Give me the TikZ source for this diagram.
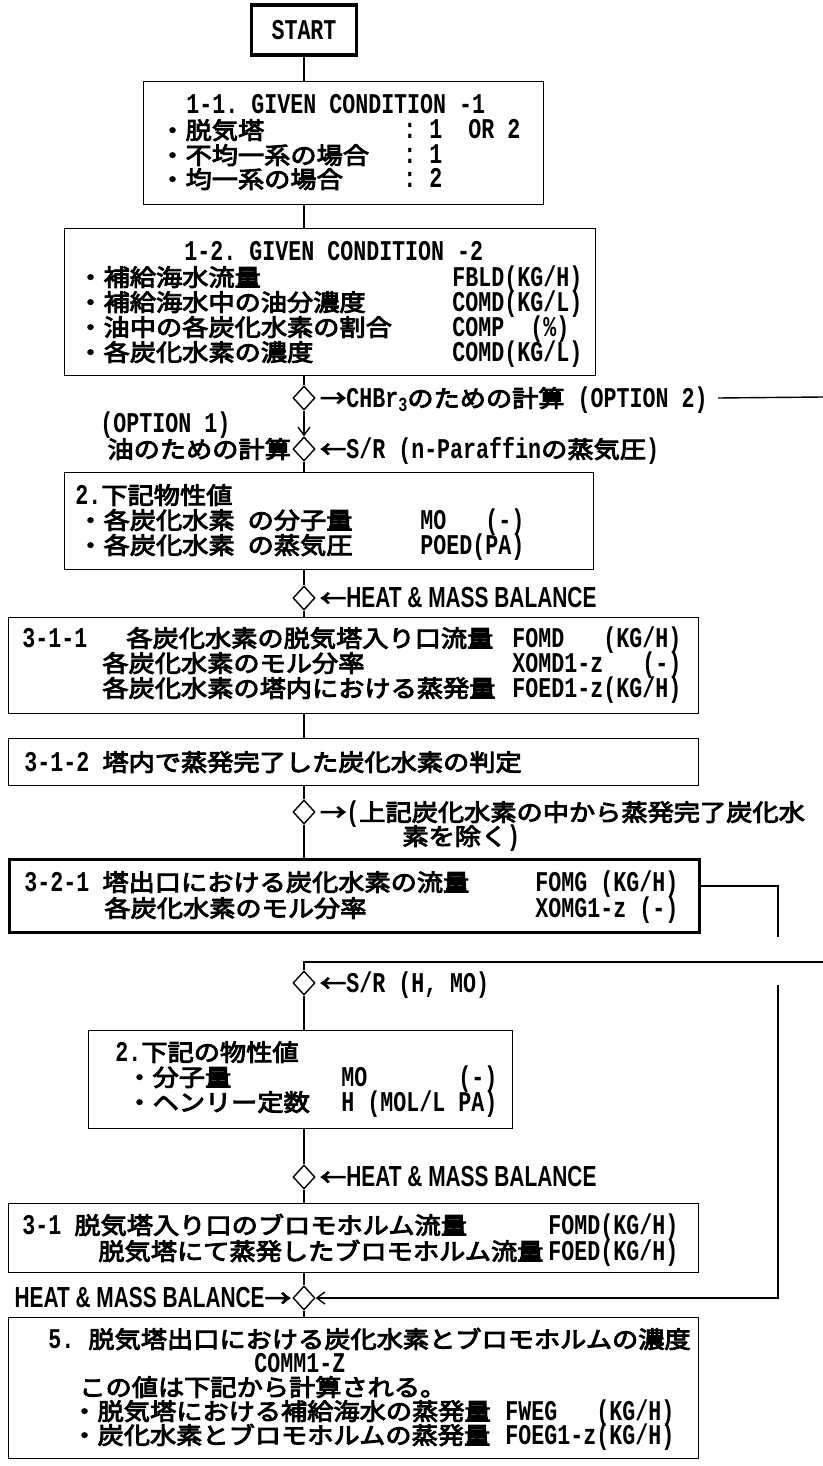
\documentclass[tikz,border=0pt]{standalone}
\usepackage{fontspec}
\usetikzlibrary{shapes.geometric,arrows.meta,calc}
\setmainfont{Liberation Mono}[FakeStretch=0.757]
\newfontfamily\jpf{Noto Sans CJK JP}[FakeStretch=1.12, FakeBold=4]
\newfontfamily\hvf{Liberation Sans}[FakeStretch=0.72]
\newcommand\mono{\fontsize{14.3}{18}\selectfont\bfseries}
\newcommand\J[1]{{\jpf\mdseries\fontsize{11.7}{14}\selectfont #1}}
\newcommand\HB[1]{{\hvf\bfseries\fontsize{14.5}{16}\selectfont #1}}
\newcommand\cw[2]{\makebox[\dimexpr#1pt/2\relax][l]{#2}}
\tikzset{
 box/.style={draw, line width=0.7pt, rectangle, inner sep=0pt, anchor=north west},
 tbox/.style={box, line width=1.7pt},
 dia/.style={diamond, draw, line width=0.7pt, minimum width=11pt, minimum height=12pt, inner sep=0pt},
 tx/.style={anchor=west, inner sep=0pt, text height=9.5pt, text depth=0.5pt, font=\mono},
 con/.style={line width=0.7pt},
 arr/.style={con, -{Straight Barb[length=4pt,width=6pt]}},
}
\begin{document}
\begin{tikzpicture}[x=0.5pt,y=-0.5pt]
\useasboundingbox (0,0) rectangle (823,1466);
% START
\node[tbox, anchor=center, minimum width=52.5pt, minimum height=25pt, font=\mono] (start) at (304,30) {START};
% 1-1
\node[box, minimum width=200pt, minimum height=61.5pt] (b11) at (143,81) {};
\node[tx] (t11a) at (186,105) {1-1.~GIVEN~CONDITION~-1};
\node[tx] (t11b) at (159,130) {\cw{244}{\J{・脱気塔}}:~1~~OR~2};
\node[tx] (t11c) at (159,155) {\cw{244}{\J{・不均一系の場合}}:~1};
\node[tx] (t11d) at (159,179) {\cw{244}{\J{・均一系の場合}}:~2};
% 1-2
\node[box, minimum width=265.5pt, minimum height=73.5pt] (b12) at (64,228) {};
\node[tx] (t12a) at (184,252) {1-2.~GIVEN~CONDITION~-2};
\node[tx] (t12b) at (77,277) {\cw{375}{\J{・補給海水流量}}FBLD(KG/H)};
\node[tx] (t12c) at (77,302) {\cw{375}{\J{・補給海水中の油分濃度}}COMD(KG/L)};
\node[tx] (t12d) at (77,327) {\cw{375}{\J{・油中の各炭化水素の割合}}COMP~~(\%)};
\node[tx] (t12e) at (77,352) {\cw{375}{\J{・各炭化水素の濃度}}COMD(KG/L)};
% D1
\node[dia] (d1) at (304,398) {};
\node[tx] (l1) at ($(d1.east)+(4,0)$) {\J{→}CHBr\raisebox{-2pt}{\fontsize{10}{10}\selectfont 3}\J{のための計算}~(OPTION~2)};
\coordinate (r1) at (823,397);
\draw[con] ([xshift=5pt]l1.east) -- (r1);
% D2
\node[dia] (d2) at (304,449) {};
\node[tx] (l2) at ($(d2.east)+(4,0)$) {\J{←}S/R~(n-Paraffin\J{の蒸気圧})};
\node[tx] (o1) at (100,423) {(OPTION~1)};
\node[tx, anchor=east] (o2) at ($(d2.west)+(-1,0)$) {\J{油のための計算}};
% 2
\node[box, minimum width=264.5pt, minimum height=48.5pt] (b2) at (64,472) {};
\node[tx] (t2a) at (75,495) {2.\J{下記物性値}};
\node[tx] (t2b) at (77,520) {\cw{343}{\J{・各炭化水素}~\J{の分子量}}MO~~~(-)};
\node[tx] (t2c) at (77,545) {\cw{343}{\J{・各炭化水素}~\J{の蒸気圧}}POED(PA)};
% D3
\node[dia] (d3) at (304,598) {};
\node[tx] (l3) at ($(d3.east)+(4,0)$) {\J{←}\HB{HEAT \& MASS BALANCE}};
% 3-1-1
\node[box, minimum width=345pt, minimum height=48pt] (b311) at (8,617) {};
\node[tx] (t311a) at (22,638) {\cw{104}{3-1-1}\cw{386}{\J{各炭化水素の脱気塔入り口流量}}FOMD~~~(KG/H)};
\node[tx] (t311b) at (102,663) {\cw{410}{\J{各炭化水素のモル分率}}XOMD1-z~~~(-)};
\node[tx] (t311c) at (102,688) {\cw{410}{\J{各炭化水素の塔内における蒸発量}}FOED1-z(KG/H)};
% 3-1-2
\node[box, minimum width=345pt, minimum height=23.5pt] (b312) at (8,738) {};
\node[tx] (t312) at (24,762) {\cw{78}{3-1-2}\J{塔内で蒸発完了した炭化水素の判定}};
% D4
\node[dia] (d4) at (304,812) {};
\node[tx] (l4a) at ($(d4.east)+(4,0)$) {\J{→}(\J{上記炭化水素の中から蒸発完了炭化水}};
\node[tx] (l4b) at (402,836) {\J{素を除く})};
% 3-2-1
\node[tbox, minimum width=345pt, minimum height=36.5pt] (b321) at (8,858) {};
\node[tx] (t321a) at (24,882) {\cw{78}{3-2-1}\cw{433}{\J{塔出口における炭化水素の流量}}FOMG~(KG/H)};
\node[tx] (t321b) at (104,908) {\cw{431}{\J{各炭化水素のモル分率}}XOMG1-z~(-)};
\coordinate (r2) at (778,886);
\coordinate (r3) at (778,937);
\draw[con] (b321.east |- r2) -- (r2) -- (r3);
% D5
\node[dia] (d5) at (304,983) {};
\node[tx] (l5) at ($(d5.east)+(4,0)$) {\J{←}S/R~(H,~MO)};
\coordinate (r4) at (823,962);
\draw[con] (r4) -- (r4 -| d5) -- (d5.north);
% 2 (second)
\node[box, minimum width=212pt, minimum height=49pt] (b2b) at (88,1030) {};
\node[tx] (t2ba) at (115,1052) {2.\J{下記の物性値}};
\node[tx] (t2bb) at (126,1077) {\cw{215}{\J{・分子量}}MO~~~~~~~(-)};
\node[tx] (t2bc) at (126,1102) {\cw{215}{\J{・ヘンリー定数}}H~(MOL/L~PA)};
% D6
\node[dia] (d6) at (304,1177) {};
\node[tx] (l6) at ($(d6.east)+(4,0)$) {\J{←}\HB{HEAT \& MASS BALANCE}};
% 3-1
\node[box, minimum width=345pt, minimum height=34.5pt] (b31) at (8,1203) {};
\node[tx] (t31a) at (22,1225) {\cw{52}{3-1}\cw{474}{\J{脱気塔入り口のブロモホルム流量}}FOMD(KG/H)};
\node[tx] (t31b) at (98,1251) {\cw{450}{\J{脱気塔にて蒸発したブロモホルム流量}}FOED(KG/H)};
% D7
\node[dia] (d7) at (304,1298) {};
\node[tx, anchor=east] (l7) at ($(d7.west)+(-1,0)$) {\HB{HEAT \& MASS BALANCE}\J{→}};
\coordinate (r5) at (778,985);
\draw[arr] (r5) |- (d7.east);
% 5
\node[box, minimum width=345pt, minimum height=70.5pt] (b5) at (8,1317) {};
\node[tx] (t5a) at (48,1339) {\cw{40}{5.}\J{脱気塔出口における炭化水素とブロモホルムの濃度}};
\node[tx] (t5b) at (254,1363) {COMM1-Z};
\node[tx] (t5c) at (79,1387) {\J{この値は下記から計算される。}};
\node[tx] (t5d) at (71,1411) {\cw{434}{\J{・脱気塔における補給海水の蒸発量}}FWEG~~~(KG/H)};
\node[tx] (t5e) at (71,1435) {\cw{434}{\J{・炭化水素とブロモホルムの蒸発量}}FOEG1-z(KG/H)};
% main connectors
\draw[con] (start.south) -- (start.south |- b11.north);
\draw[con] (b11.south -| start) -- (b12.north -| start);
\draw[con] (b12.south -| d1) -- (d1.north);
\draw[arr] (d1.south) -- (d2.north);
\draw[con] (d2.south) -- (d2.south |- b2.north);
\draw[con] (b2.south -| d3) -- (d3.north);
\draw[con] (d3.south) -- (d3.south |- b311.north);
\draw[con] (b311.south -| d3) -- (b312.north -| d3);
\draw[con] (b312.south -| d4) -- (d4.north);
\draw[con] (d4.south) -- (d4.south |- b321.north);
\draw[con] (d5.south) -- (d5.south |- b2b.north);
\draw[con] (b2b.south -| d6) -- (d6.north);
\draw[con] (d6.south) -- (d6.south |- b31.north);
\draw[con] (b31.south -| d7) -- (d7.north);
\draw[con] (d7.south) -- (d7.south |- b5.north);
\end{tikzpicture}
\end{document}
